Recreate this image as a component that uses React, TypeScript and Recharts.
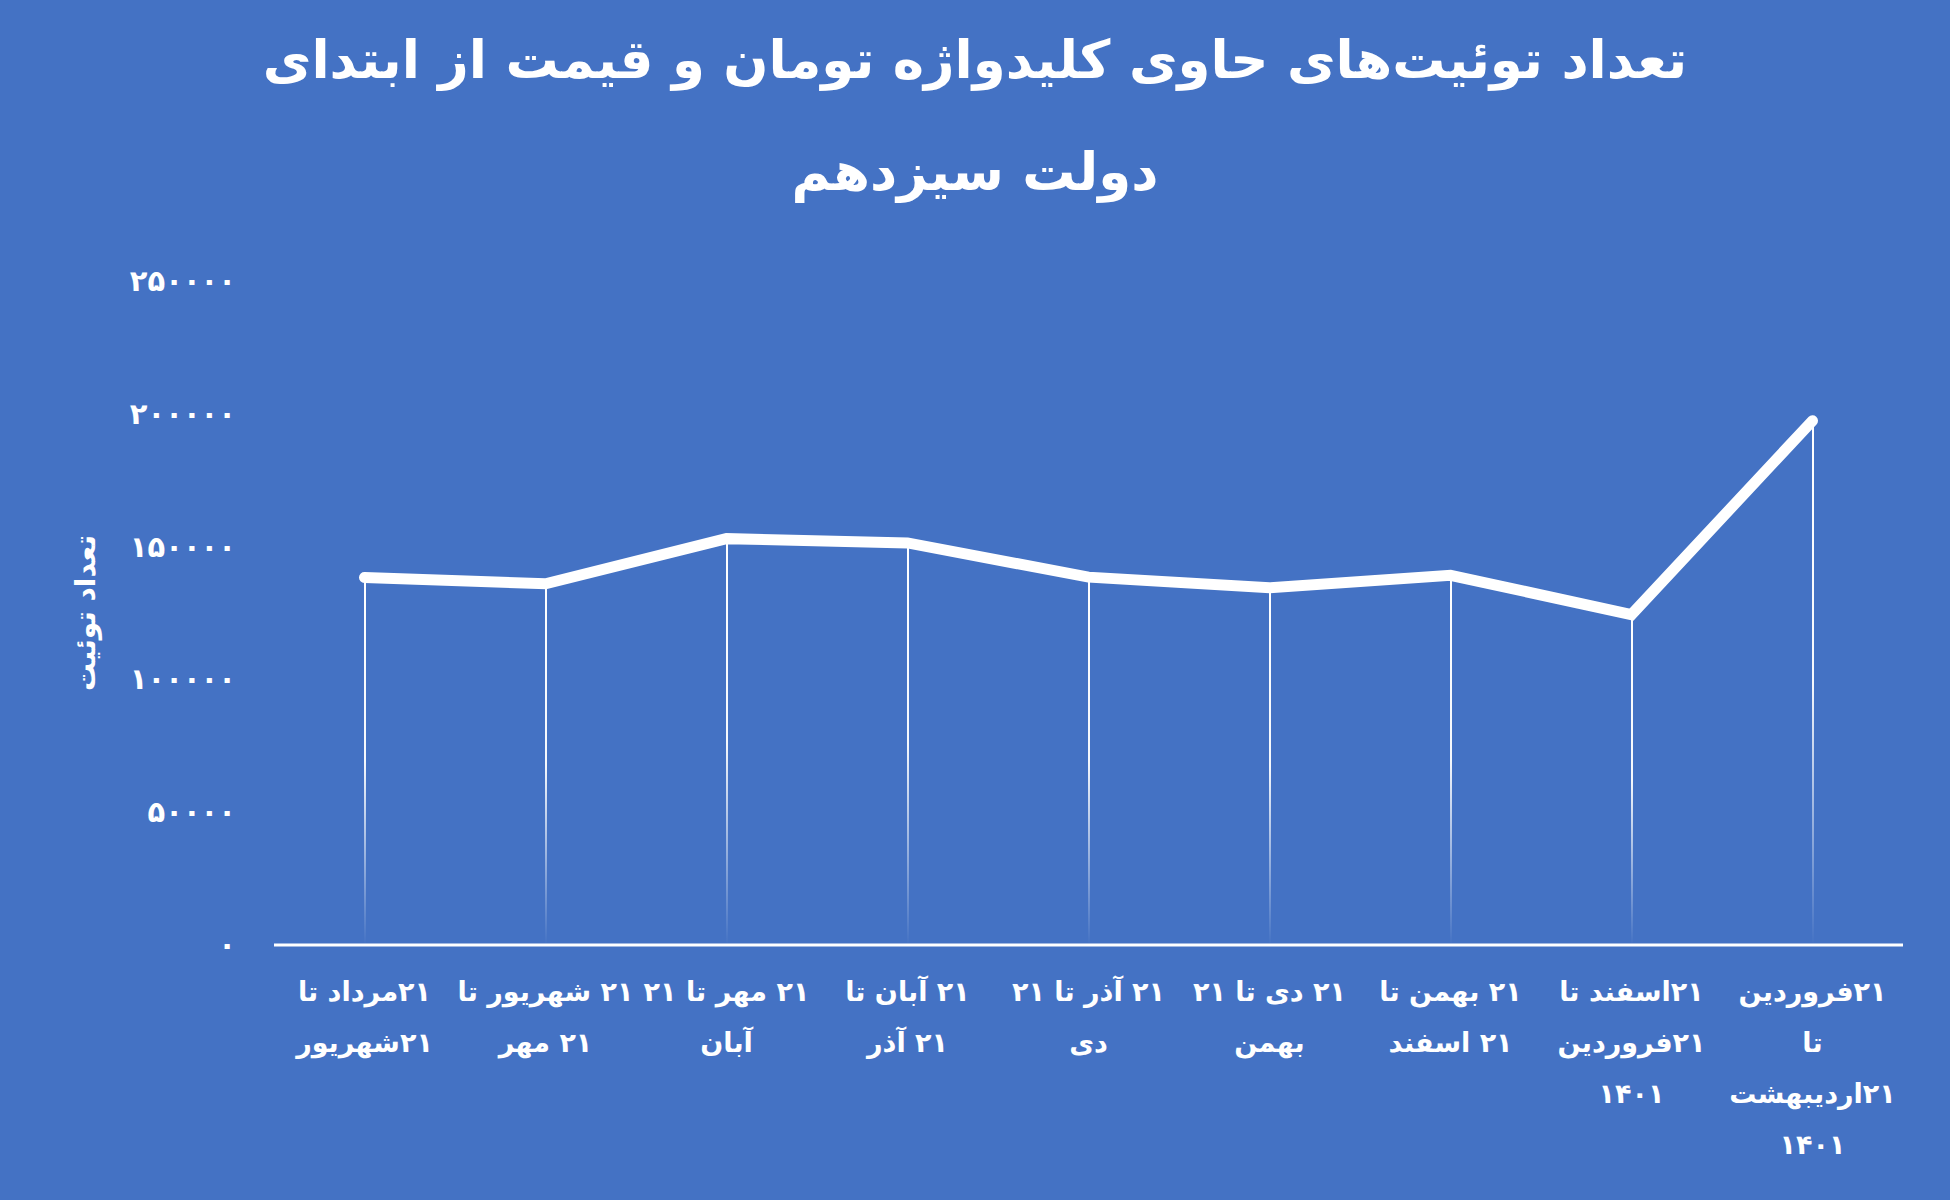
import React from "react";
import {
  ComposedChart,
  Bar,
  Line,
  XAxis,
  YAxis,
} from "recharts";

// period labels, one entry per line of the wrapped axis label
const periodLabels: string[][] = [
  ["۲۱مرداد تا", "۲۱شهریور"],
  ["۲۱ شهریور تا", "۲۱ مهر"],
  ["۲۱ مهر تا ۲۱", "آبان"],
  ["۲۱ آبان تا", "۲۱ آذر"],
  ["۲۱ آذر تا ۲۱", "دی"],
  ["۲۱ دی تا ۲۱", "بهمن"],
  ["۲۱ بهمن تا", "۲۱ اسفند"],
  ["۲۱اسفند تا", "۲۱فروردین", "۱۴۰۱"],
  ["۲۱فروردین", "تا", "۲۱اردیبهشت", "۱۴۰۱"],
];

const tweetCounts = [138400, 136000, 153000, 151400, 138500, 134500, 139200, 124400, 197400];

const yTicks = [0, 50000, 100000, 150000, 200000, 250000];

const titleLines = ["تعداد توئیت‌های حاوی کلیدواژه تومان و قیمت از ابتدای", "دولت سیزدهم"];
const yAxisTitle = "تعداد توئیت";

const BG = "#4472C4";
const FONT = "'DejaVu Sans', sans-serif";

const faDigits = (n: number) =>
  String(n).replace(/\d/g, (d) => "۰۱۲۳۴۵۶۷۸۹"[Number(d)]);

const chartData = periodLabels.map((lines, i) => ({
  idx: String(i),
  count: tweetCounts[i],
}));

function PeriodTick(props: any) {
  const { x, y, payload } = props;
  const lines = periodLabels[Number(payload.value)] || [];
  return (
    <g>
      {lines.map((ln, i) => (
        <text
          key={i}
          x={x}
          y={y + 46 + i * 51}
          textAnchor="middle"
          dominantBaseline="central"
          fill="#fff"
          fontFamily={FONT}
          fontWeight="bold"
          fontSize={27}
          style={{ direction: "rtl" }}
        >
          {ln}
        </text>
      ))}
    </g>
  );
}

function CountTick(props: any) {
  const { x, y, payload } = props;
  return (
    <text
      x={x}
      y={y}
      textAnchor="end"
      dominantBaseline="central"
      fill="#fff"
      fontFamily={FONT}
      fontWeight="bold"
      fontSize={29}
    >
      {faDigits(payload.value)}
    </text>
  );
}

export default function App() {
  return (
    <div
      style={{
        position: "fixed",
        left: 0,
        top: 0,
        width: 1950,
        height: 1200,
        background: BG,
        overflow: "hidden",
      }}
    >
      <div
        dir="rtl"
        style={{
          position: "absolute",
          left: 0,
          top: 4,
          width: 1950,
          textAlign: "center",
          color: "#fff",
          fontFamily: FONT,
          fontWeight: "bold",
          fontSize: 53,
          lineHeight: "112px",
        }}
      >
        {titleLines.map((t, i) => (
          <div key={i}>{t}</div>
        ))}
      </div>
      <ComposedChart
        width={1950}
        height={1200}
        data={chartData}
        margin={{ top: 281, right: 47, bottom: 0, left: 0 }}
      >
        <defs>
          <linearGradient id="dropFade" x1="0" y1="0" x2="0" y2="1">
            <stop offset="0" stopColor="#fff" stopOpacity={1} />
            <stop offset="0.5" stopColor="#fff" stopOpacity={0.95} />
            <stop offset="1" stopColor="#fff" stopOpacity={0} />
          </linearGradient>
        </defs>
        <XAxis
          dataKey="idx"
          height={255}
          axisLine={{ stroke: "#fff", strokeWidth: 3 }}
          tickLine={false}
          tickSize={0}
          tickMargin={0}
          interval={0}
          tick={<PeriodTick />}
        />
        <YAxis
          width={274}
          domain={[0, 250000]}
          ticks={yTicks}
          axisLine={false}
          tickLine={false}
          tickSize={0}
          tickMargin={38}
          tick={<CountTick />}
          label={{
            content: ({ viewBox }: any) => {
              const cx = viewBox.x + 85;
              const cy = viewBox.y + viewBox.height / 2;
              return (
                <text
                  x={cx}
                  y={cy}
                  transform={`rotate(-90 ${cx} ${cy})`}
                  textAnchor="middle"
                  dominantBaseline="central"
                  fill="#fff"
                  fontFamily={FONT}
                  fontWeight="bold"
                  fontSize={28}
                  style={{ direction: "rtl" }}
                >
                  {yAxisTitle}
                </text>
              );
            },
          }}
        />
        <Bar dataKey="count" barSize={2} fill="url(#dropFade)" isAnimationActive={false} />
        <Line
          type="linear"
          dataKey="count"
          stroke="#fff"
          strokeWidth={11}
          strokeLinecap="round"
          dot={false}
          activeDot={false}
          isAnimationActive={false}
        />
      </ComposedChart>
    </div>
  );
}
